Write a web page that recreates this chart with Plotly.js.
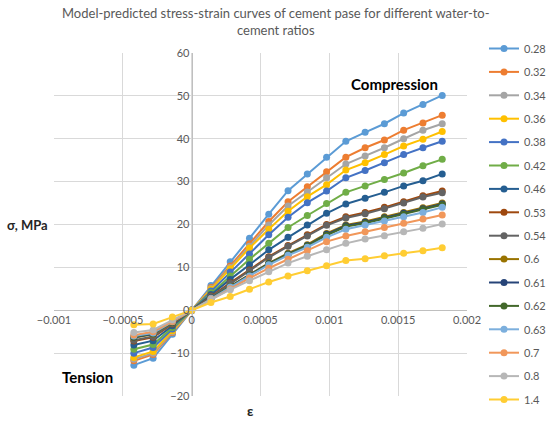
<!DOCTYPE html>
<html>
<head>
<meta charset="utf-8">
<script src="https://cdn.plot.ly/plotly-3.0.1.min.js"></script>
<style>
html,body{margin:0;padding:0;background:#fff;}
#chart{width:550px;height:421px;}
</style>
</head>
<body>
<div id="chart"></div>
<script>
// strain values (shared by all series)
var strain = [-0.00042, -0.00028, -0.00014, 0, 0.00014, 0.00028, 0.00042, 0.00056, 0.0007, 0.00084, 0.00098, 0.00112, 0.00126, 0.0014, 0.00154, 0.00168, 0.00182];

var ratios = ['0.28','0.32','0.34','0.36','0.38','0.42','0.46','0.53','0.54','0.6','0.61','0.62','0.63','0.7','0.8','1.4'];

var s028 = [-12.8, -11.2, -5.6, 0, 5.8, 11.3, 16.8, 22.4, 27.9, 31.8, 35.7, 39.4, 41.5, 43.5, 46.0, 48.0, 50.1];
var s032 = [-11.8, -10.3, -5.2, 0, 5.3, 10.3, 15.5, 20.7, 25.3, 28.8, 32.3, 35.7, 37.9, 39.7, 42.0, 43.7, 45.5];
var s034 = [-11.4, -10.0, -5.0, 0, 5.1, 10.0, 14.9, 19.9, 24.3, 27.6, 30.9, 34.1, 36.0, 37.9, 40.0, 42.0, 43.5];
var s036 = [-11.0, -9.6, -4.8, 0, 4.9, 9.7, 14.5, 18.9, 23.1, 26.5, 29.3, 32.7, 34.4, 36.3, 38.3, 39.9, 41.7];
var s038 = [-10.0, -8.7, -4.4, 0, 4.5, 8.9, 13.1, 17.6, 21.7, 25.1, 27.8, 30.9, 32.6, 34.4, 36.3, 37.9, 39.4];
var s042 = [-9.1, -8.0, -4.0, 0, 4.1, 8.0, 11.9, 15.6, 19.3, 22.1, 24.9, 27.5, 29.0, 30.5, 32.0, 33.7, 35.2];
var s046 = [-8.1, -7.1, -3.6, 0, 3.7, 7.2, 10.6, 14.1, 17.0, 19.9, 22.6, 24.8, 26.1, 27.5, 29.0, 30.2, 31.8];
var s053 = [-7.2, -6.3, -3.2, 0, 3.3, 6.4, 9.4, 12.5, 15.1, 17.6, 20.0, 21.8, 22.8, 24.0, 25.3, 26.7, 27.8];
var s054 = [-7.0, -6.1, -3.1, 0, 3.2, 6.3, 9.2, 12.3, 14.9, 17.3, 19.8, 21.5, 22.5, 23.7, 25.0, 26.4, 27.4];
var s060 = [-6.4, -5.6, -2.9, 0, 2.9, 5.6, 8.3, 11.0, 13.3, 15.3, 17.9, 19.9, 20.7, 21.8, 22.8, 23.9, 25.0];
var s061 = [-6.3, -5.5, -2.8, 0, 2.9, 5.5, 8.2, 10.9, 13.1, 15.1, 17.7, 19.7, 20.5, 21.6, 22.6, 23.7, 24.8];
var s062 = [-6.2, -5.4, -2.8, 0, 2.8, 5.5, 8.1, 10.8, 13.0, 15.0, 17.5, 19.5, 20.3, 21.4, 22.4, 23.5, 24.6];
var s063 = [-6.0, -5.3, -2.7, 0, 2.8, 5.4, 8.0, 10.6, 12.8, 14.7, 17.0, 18.9, 19.9, 20.8, 21.8, 22.8, 24.0];
var s070 = [-5.8, -5.0, -2.6, 0, 2.6, 5.0, 7.5, 9.8, 11.9, 13.9, 16.0, 17.3, 18.3, 19.3, 20.3, 21.3, 22.2];
var s080 = [-5.2, -4.6, -2.3, 0, 2.5, 4.8, 6.9, 9.0, 11.0, 12.6, 14.1, 15.6, 16.6, 17.4, 18.3, 19.1, 20.1];
var s140 = [-3.4, -3.2, -1.6, 0, 1.8, 3.2, 4.9, 6.6, 8.0, 9.2, 10.4, 11.6, 12.0, 12.7, 13.3, 13.9, 14.6];

var seriesValues = [s028, s032, s034, s036, s038, s042, s046, s053, s054, s060, s061, s062, s063, s070, s080, s140];

var colors = ['#5B9BD5','#ED7D31','#A5A5A5','#FFC000','#4472C4','#70AD47','#255E91','#9E480E','#636363','#997300','#264478','#43682B','#7CAFDD','#F1975A','#B7B7B7','#FFCD33'];

var xTickVals = [-0.001, -0.0005, 0, 0.0005, 0.001, 0.0015, 0.002];
var xTickText = ['\u22120.001', '\u22120.0005', '0', '0.0005', '0.001', '0.0015', '0.002'];
var yTickVals = [-20, -10, 0, 10, 20, 30, 40, 50, 60];
var yTickText = ['\u221220', '\u221210', '0', '10', '20', '30', '40', '50', '60'];

var chartTitle = 'Model-predicted stress-strain curves of cement pase for different water-to-<br>cement ratios';

var FONT = 'Lato, "Open Sans", sans-serif';

var traces = seriesValues.map(function (vals, i) {
  return {
    x: strain,
    y: vals,
    name: ratios[i],
    legendgroup: 'g' + i,
    type: 'scatter',
    mode: 'lines+markers',
    line: {color: colors[i], width: 2},
    marker: {color: colors[i], size: 7, symbol: 'circle'}
  };
});

var layout = {
  width: 550,
  height: 421,
  margin: {l: 54, r: 83, t: 53, b: 25, autoexpand: false},
  paper_bgcolor: '#ffffff',
  plot_bgcolor: '#ffffff',
  font: {family: FONT, color: '#595959', size: 11},
  xaxis: {
    range: [-0.001, 0.002],
    tickvals: xTickVals,
    ticktext: xTickText,
    showgrid: true,
    gridcolor: '#d9d9d9',
    gridwidth: 1,
    zeroline: false,
    showline: true,
    linecolor: '#bfbfbf',
    linewidth: 1,
    anchor: 'free',
    position: 0.25,
    ticks: '',
    tickfont: {family: FONT, size: 11, color: '#595959'}
  },
  yaxis: {
    range: [-20, 60],
    tickvals: yTickVals,
    ticktext: yTickText,
    showgrid: true,
    gridcolor: '#d9d9d9',
    gridwidth: 1,
    zeroline: false,
    showline: true,
    linecolor: '#bfbfbf',
    linewidth: 1,
    anchor: 'free',
    position: 1 / 3,
    ticks: '',
    tickfont: {family: FONT, size: 11, color: '#595959'}
  },
  showlegend: true,
  legend: {
    x: (484 - 54) / 413,
    xanchor: 'left',
    y: 1 + (53 - 34) / 343,
    yanchor: 'top',
    maxheight: 1,
    font: {family: FONT, size: 11, color: '#595959'},
    tracegroupgap: 4.4,
    itemwidth: 30,
    bgcolor: 'rgba(0,0,0,0)'
  },
  annotations: [
    {text: chartTitle, xref: 'paper', yref: 'paper', x: (276 - 54) / 413, y: (396 - 21.5) / 343,
     showarrow: false, font: {family: FONT, size: 13, color: '#595959'}, xanchor: 'center', yanchor: 'middle', align: 'center'},
    {text: '<b>σ, MPa</b>', xref: 'paper', yref: 'paper', x: (27 - 54) / 413, y: (396 - 225) / 343,
     showarrow: false, font: {family: FONT, size: 13, color: '#262626'}, xanchor: 'center', yanchor: 'middle'},
    {text: '<b>ε</b>', xref: 'paper', yref: 'paper', x: (250 - 54) / 413, y: (396 - 410) / 343,
     showarrow: false, font: {family: FONT, size: 14, color: '#262626'}, xanchor: 'center', yanchor: 'middle'},
    {text: '<b>Compression</b>', xref: 'paper', yref: 'paper', x: (394 - 54) / 413, y: (396 - 84) / 343,
     showarrow: false, font: {family: FONT, size: 15, color: '#000000'}, xanchor: 'center', yanchor: 'middle'},
    {text: '<b>Tension</b>', xref: 'paper', yref: 'paper', x: (87 - 54) / 413, y: (396 - 377) / 343,
     showarrow: false, font: {family: FONT, size: 15, color: '#000000'}, xanchor: 'center', yanchor: 'middle'}
  ]
};

Plotly.newPlot('chart', traces, layout, {displayModeBar: false, staticPlot: true});
</script>
</body>
</html>
